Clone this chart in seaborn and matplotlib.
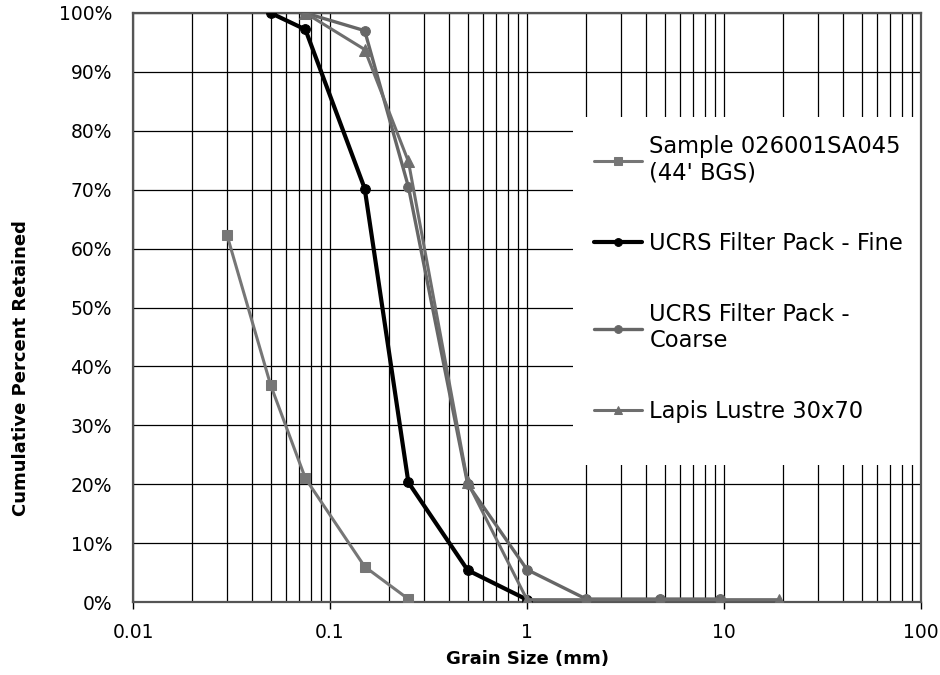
import matplotlib
matplotlib.use("Agg")
import matplotlib.pyplot as plt
import seaborn as sns
import pandas as pd
from matplotlib.patches import Rectangle
from matplotlib.ticker import FixedLocator, FuncFormatter, LogLocator, NullFormatter

# ---- data ----
sample_x = [0.03, 0.05, 0.075, 0.15, 0.25]
sample_y = [62.3, 36.8, 21.0, 6.0, 0.5]

fine_x = [0.05, 0.075, 0.15, 0.25, 0.5, 1.0]
fine_y = [100.0, 97.2, 70.2, 20.3, 5.4, 0.4]

coarse_x = [0.075, 0.15, 0.25, 0.5, 1.0, 2.0, 4.75, 9.5]
coarse_y = [100.0, 97.0, 70.5, 20.0, 5.5, 0.5, 0.5, 0.5]

lapis_x = [0.075, 0.15, 0.25, 0.5, 1.0, 2.0, 4.75, 9.5, 19.0]
lapis_y = [100.0, 93.8, 74.8, 20.3, 0.4, 0.4, 0.4, 0.4, 0.4]

series_names = ["Sample 026001SA045\n(44' BGS)",
                "UCRS Filter Pack - Fine",
                "UCRS Filter Pack -\nCoarse",
                "Lapis Lustre 30x70"]

x_ticks = [0.01, 0.1, 1, 10, 100]
x_tick_labels = ["0.01", "0.1", "1", "10", "100"]
y_ticks = [0, 10, 20, 30, 40, 50, 60, 70, 80, 90, 100]

# ---- styling ----
sns.set_style("white")
plt.rcParams["font.family"] = ["DejaVu Sans"]
plt.rcParams["text.color"] = "black"
plt.rcParams["axes.labelcolor"] = "black"
plt.rcParams["xtick.color"] = "black"
plt.rcParams["ytick.color"] = "black"

fig = plt.figure(figsize=(9.4, 6.75), dpi=100)
ax = fig.add_axes([133 / 940, 1 - 602 / 675, (921 - 133) / 940, (602 - 13) / 675])

styles = [
    dict(color="#767676", marker="s", lw=2.2, ms=7),
    dict(color="#000000", marker="o", lw=3.0, ms=7),
    dict(color="#666666", marker="o", lw=2.4, ms=7),
    dict(color="#6e6e6e", marker="^", lw=2.2, ms=8),
]
xs = [sample_x, fine_x, coarse_x, lapis_x]
ys = [sample_y, fine_y, coarse_y, lapis_y]

# draw order: sample, coarse, lapis, fine on top
for i in [0, 2, 3, 1]:
    df = pd.DataFrame({"x": xs[i], "y": ys[i]})
    st = styles[i]
    sns.lineplot(data=df, x="x", y="y", ax=ax, color=st["color"], marker=st["marker"],
                 linewidth=st["lw"], markersize=st["ms"], markeredgecolor=st["color"],
                 markerfacecolor=st["color"], sort=False, label=series_names[i], zorder=3 + i)

ax.set_xscale("log")
ax.set_xlim(0.01, 100)
ax.set_ylim(0, 100)

ax.xaxis.set_major_locator(FixedLocator(x_ticks))
ax.set_xticklabels(x_tick_labels)
ax.xaxis.set_minor_locator(LogLocator(base=10, subs=range(2, 10)))
ax.xaxis.set_minor_formatter(NullFormatter())
ax.set_yticks(y_ticks)
ax.yaxis.set_major_formatter(FuncFormatter(lambda v, p: f"{int(v)}%"))

ax.grid(True, which="major", axis="both", color="black", linewidth=0.9)
ax.grid(True, which="minor", axis="x", color="black", linewidth=0.9)
ax.set_axisbelow(True)

ax.tick_params(axis="x", which="major", length=5, width=1, direction="out", labelsize=13.5, pad=10, bottom=True)
ax.tick_params(axis="x", which="minor", length=0)
ax.tick_params(axis="y", which="major", length=0, labelsize=13.5, pad=15)

for s in ax.spines.values():
    s.set_color("#555555")
    s.set_linewidth(1.6)

ax.set_xlabel("Grain Size (mm)", fontsize=13, fontweight="bold")
ax.xaxis.set_label_coords(0.5, (602 - 650) / 589)
ax.set_ylabel("Cumulative Percent Retained", fontsize=13, fontweight="bold")
ax.yaxis.set_label_coords((30 - 133) / 788, (602 - 368) / 589)

# white legend area that hides the grid (as in the reference)
bg = Rectangle(((573 - 133) / 788, (602 - 465) / 589), (921 - 573) / 788, (465 - 117) / 589,
               transform=ax.transAxes, facecolor="white", edgecolor="none", zorder=1.5)
ax.add_patch(bg)

# legend in the same order as reference
handles, labels = ax.get_legend_handles_labels()
order = [labels.index(n) for n in series_names]
leg = ax.legend([handles[k] for k in order], [labels[k] for k in order],
                loc="upper left", bbox_to_anchor=((594 - 133) / 788, (602 - 135) / 589),
                frameon=False, fontsize=16.3, handlelength=2.1, handletextpad=0.35,
                labelspacing=2.1, borderpad=0, borderaxespad=0, markerscale=0.8)
for t in leg.get_texts():
    t.set_color("black")
leg.set_zorder(20)

fig.savefig("out.png", dpi=100, facecolor="white")
